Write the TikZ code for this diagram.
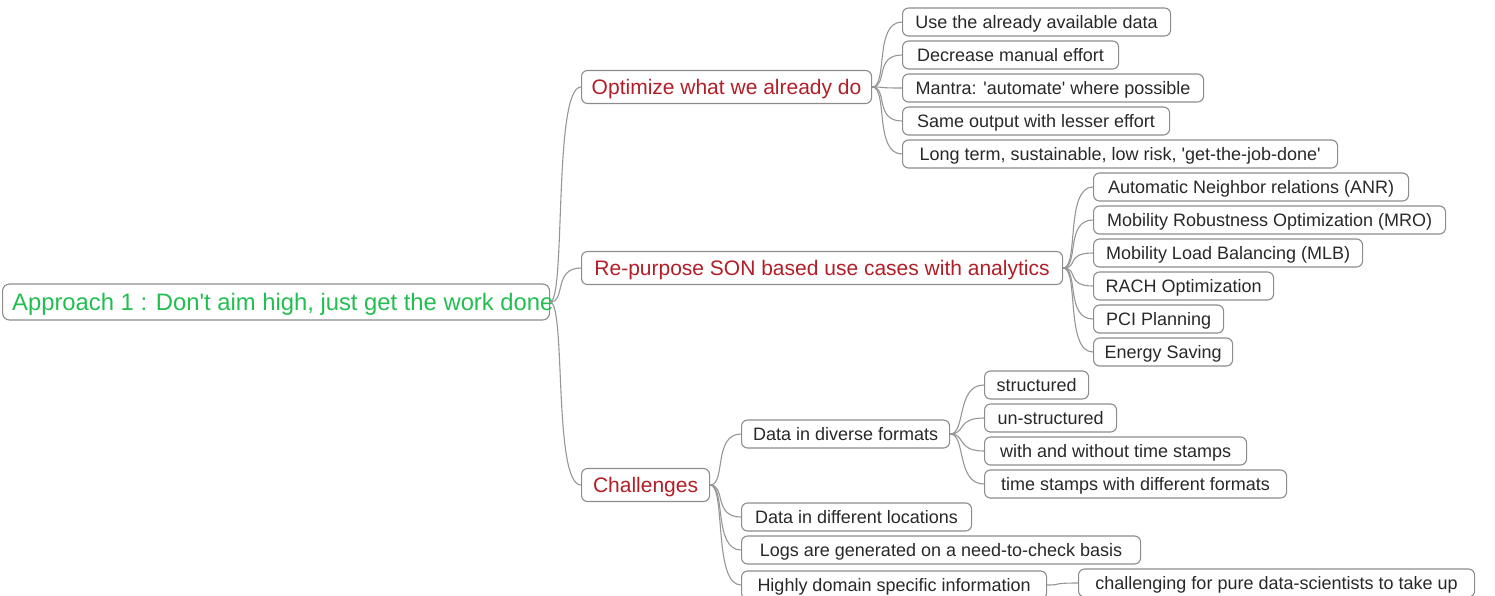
\documentclass[tikz,border=0pt]{standalone}
\usepackage{fontspec}
\setmainfont{Liberation Sans}[Ligatures=TeXOff]
\definecolor{boxgray}{RGB}{140,140,140}
\definecolor{linegray}{RGB}{150,150,150}
\definecolor{txtgray}{RGB}{40,40,40}
\definecolor{redtxt}{RGB}{178,30,40}
\definecolor{greentxt}{RGB}{34,190,80}
\tikzset{
  leaf/.style={draw=boxgray, rounded corners=6pt, line width=1.1pt, text=txtgray,
    font=\fontsize{18}{20}\selectfont, text height=13pt, text depth=0pt,
    minimum height=28pt, inner xsep=0pt, inner ysep=0pt, anchor=west},
  branch/.style={leaf, text=redtxt, font=\fontsize{21}{24}\selectfont,
    text height=15pt, text depth=0pt, minimum height=33pt},
  rootbox/.style={draw=boxgray, rounded corners=7pt, line width=1.1pt, minimum height=36pt, inner sep=0pt, anchor=west},
  roottext/.style={text=greentxt, font=\fontsize{23.8}{28}\selectfont, text height=17pt, text depth=0pt, inner sep=0pt, anchor=west},
  conn/.style={draw=linegray, line width=1.1pt}
}
\newcommand{\linkit}[2]{\draw[conn] (#1.east) .. controls +(16,0) and +(-28,0) .. (#2.west);}
\begin{document}
\begin{tikzpicture}[x=1pt,y=-1pt]
\useasboundingbox (0,0) rectangle (1495,595);
% root
\node[rootbox, minimum width=547pt] (root) at (2,302) {};
\node[roottext] (roott) at (12,302) {Approach 1 : Don't aim high, just get the work done};
% level 1
\node[branch, minimum width=290pt] (opt) at (581,87) {Optimize what we already do};
\node[branch, minimum width=481pt] (rep) at (581,268) {Re-purpose SON based use cases with analytics};
\node[branch, minimum width=128pt] (chal) at (581,485) {Challenges};
% optimize children
\node[leaf, minimum width=268pt] (o1) at (902,22) {Use the already available data};
\node[leaf, minimum width=216pt] (o2) at (902,55) {Decrease manual effort};
\node[leaf, minimum width=301pt] (o3) at (902,88) {Mantra: 'automate' where possible};
\node[leaf, minimum width=267pt] (o4) at (902,121) {Same output with lesser effort};
\node[leaf, minimum width=435pt] (o5) at (902,154) {Long term, sustainable, low risk, 'get-the-job-done'};
% repurpose children
\node[leaf, minimum width=315pt] (r1) at (1093,187) {Automatic Neighbor relations (ANR)};
\node[leaf, minimum width=352pt] (r2) at (1093,220) {Mobility Robustness Optimization (MRO)};
\node[leaf, minimum width=269pt] (r3) at (1093,253) {Mobility Load Balancing (MLB)};
\node[leaf, minimum width=180pt] (r4) at (1093,286) {RACH Optimization};
\node[leaf, minimum width=130pt] (r5) at (1093,319) {PCI Planning};
\node[leaf, minimum width=139pt] (r6) at (1093,352) {Energy Saving};
% challenges children
\node[leaf, minimum width=208pt] (c1) at (741,434) {Data in diverse formats};
\node[leaf, minimum width=230pt] (c2) at (741,517) {Data in different locations};
\node[leaf, minimum width=399pt] (c3) at (741,550) {Logs are generated on a need-to-check basis};
\node[leaf, minimum width=305pt] (c4) at (741,585) {Highly domain specific information};
% diverse formats children
\node[leaf, minimum width=104pt] (d1) at (984,385) {structured};
\node[leaf, minimum width=132pt] (d2) at (984,418) {un-structured};
\node[leaf, minimum width=262pt] (d3) at (984,451) {with and without time stamps};
\node[leaf, minimum width=302pt] (d4) at (984,484) {time stamps with different formats};
% domain child
\node[leaf, minimum width=396pt] (h1) at (1078,583) {challenging for pure data-scientists to take up};
% connectors
\foreach \c in {opt,rep,chal} {\linkit{root}{\c}}
\foreach \c in {o1,o2,o3,o4,o5} {\linkit{opt}{\c}}
\foreach \c in {r1,r2,r3,r4,r5,r6} {\linkit{rep}{\c}}
\foreach \c in {c1,c2,c3,c4} {\linkit{chal}{\c}}
\foreach \c in {d1,d2,d3,d4} {\linkit{c1}{\c}}
\linkit{c4}{h1}
\end{tikzpicture}
\end{document}
